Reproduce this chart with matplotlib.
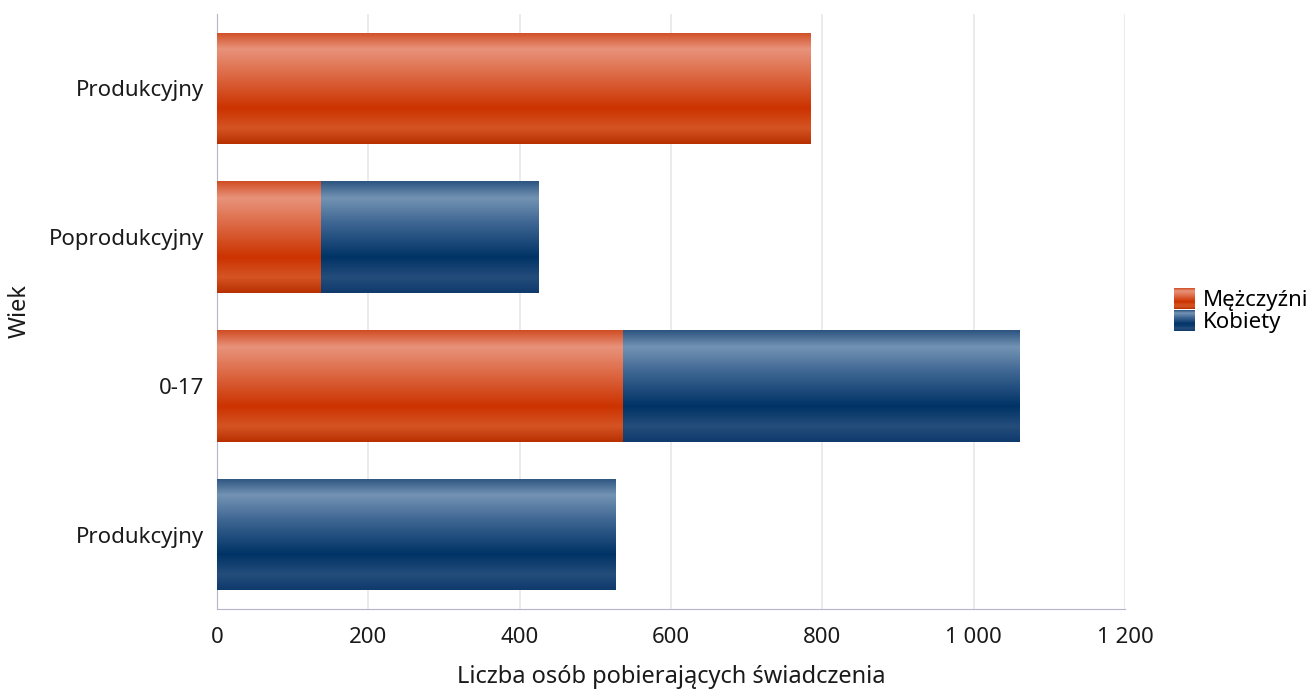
import numpy as np
import matplotlib
matplotlib.use("Agg")
import matplotlib.pyplot as plt
from matplotlib.colors import LinearSegmentedColormap
from matplotlib.legend_handler import HandlerBase
from matplotlib.patches import Rectangle

plt.rcParams['font.family'] = ['Noto Sans', 'DejaVu Sans']

categories = ["Produkcyjny", "Poprodukcyjny", "0-17", "Produkcyjny"]
men = [784, 137, 537, 0]
women = [0, 287, 524, 527]
series_names = ["Mężczyźni", "Kobiety"]

# gradient stops (top -> bottom)
red_stops = ["#d04d24", "#e8937b", "#dd6a46", "#cc3300", "#d55424", "#b83000"]
blue_stops = ["#2c5480", "#7393b3", "#3d6592", "#003366", "#244d7b", "#0f3a6c"]
stop_pos = [0.0, 0.15, 0.38, 0.68, 0.86, 1.0]

red_cmap = LinearSegmentedColormap.from_list("r", list(zip(stop_pos, red_stops)))
blue_cmap = LinearSegmentedColormap.from_list("b", list(zip(stop_pos, blue_stops)))
grad = np.linspace(0, 1, 256).reshape(-1, 1)


def fill_gradient(ax, bars, cmap):
    for b in bars:
        x0, y0 = b.get_x(), b.get_y()
        w, h = b.get_width(), b.get_height()
        if w <= 0:
            continue
        im = ax.imshow(grad, cmap=cmap, aspect='auto', origin='upper',
                       extent=(x0, x0 + w, y0, y0 + h), zorder=3, interpolation='bilinear')
        im.set_clip_path(b)


class GradHandler(HandlerBase):
    def __init__(self, cmap):
        super().__init__()
        self.cmap = cmap

    def create_artists(self, legend, orig_handle, xdescent, ydescent, width, height, fontsize, trans):
        arts = []
        n = 20
        side = height * 1.35
        x = -xdescent + (width - side) / 2
        y0 = -ydescent - (side - height) / 2
        for i in range(n):
            c = self.cmap(1 - (i + 0.5) / n)
            r = Rectangle((x, y0 + side * i / n), side, side / n + 0.05, facecolor=c,
                          edgecolor='none', transform=trans)
            arts.append(r)
        return arts


fig = plt.figure(figsize=(13.12, 6.92), dpi=100)
ax = fig.add_axes([217 / 1312, 1 - 609 / 692, (1125 - 217) / 1312, (609 - 14) / 692])

y = np.arange(len(categories))[::-1]
bars_m = ax.barh(y, men, height=0.75, color='none', edgecolor='none', zorder=3)
bars_w = ax.barh(y, women, left=men, height=0.75, color='none', edgecolor='none', zorder=3)
fill_gradient(ax, bars_m, red_cmap)
fill_gradient(ax, bars_w, blue_cmap)

ax.set_xlim(0, 1200)
ax.set_ylim(-0.5, 3.5)
ax.set_xticks(range(0, 1201, 200))
ax.set_xticklabels([f"{v:,}".replace(",", " ") for v in range(0, 1201, 200)])
ax.set_yticks(y)
ax.set_yticklabels(categories)
ax.grid(axis='x', color='#e6e6ec', linewidth=1.2, zorder=0)
ax.set_axisbelow(True)

for s in ['top', 'right']:
    ax.spines[s].set_visible(False)
ax.spines['left'].set_color('#b4b4cc')
ax.spines['bottom'].set_color('#b4b4cc')
ax.tick_params(axis='both', length=0, labelsize=16, colors='#1a1a1a')
ax.tick_params(axis='y', pad=9)
ax.tick_params(axis='x', pad=13)

ax.set_xlabel("Liczba osób pobierających świadczenia", fontsize=17, labelpad=12, color='#1a1a1a')
ax.set_ylabel("Wiek", fontsize=17, color='#1a1a1a')
ax.yaxis.set_label_coords(-0.204, 0.5)

h1 = Rectangle((0, 0), 1, 1)
h2 = Rectangle((0, 0), 1, 1)
ax.legend([h1, h2], series_names, loc='center left', bbox_to_anchor=(1.03, 0.5),
          frameon=False, fontsize=16, handlelength=1.1, handletextpad=0.3, labelspacing=0.05,
          handler_map={h1: GradHandler(red_cmap), h2: GradHandler(blue_cmap)})

fig.savefig("out.png", dpi=100)
